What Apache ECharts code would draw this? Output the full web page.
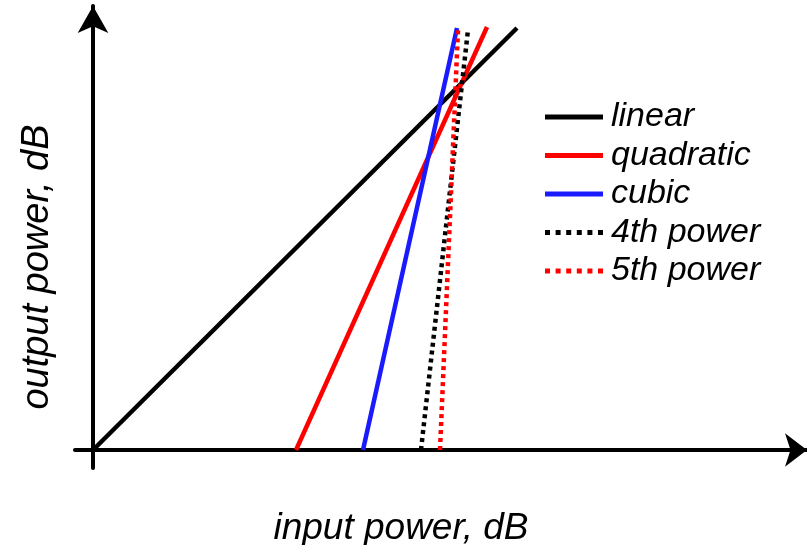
<!DOCTYPE html>
<html>
<head>
<meta charset="utf-8">
<script src="https://cdn.jsdelivr.net/npm/echarts@6/dist/echarts.min.js"></script>
<style>
  html, body, #main { margin: 0; padding: 0; width: 807px; height: 545px; background: #fff; overflow: hidden; }
</style>
</head>
<body>
<div id="main"></div>
<script>
// series names (legend order)
const seriesNames = ["linear", "quadratic", "cubic", "4th power", "5th power"];
// end points of each line: [input dB, output dB]
const linearPts = [[0, 0], [42.4, 42.2]];
const quadraticPts = [[20.3, 0], [39.4, 42.3]];
const cubicPts = [[27.0, 0], [36.4, 42.2]];
const fourthPts = [[32.8, 0], [37.5, 42.0]];
const fifthPts = [[34.7, 0], [36.5, 42.0]];

const myChart = echarts.init(document.getElementById("main"));
const font = "Liberation Sans, Arial, sans-serif";

// legend icons: a solid bar, and a row of squares for the dotted ones
const solidIcon = "path://M0,0h58v5h-58z";
const dotIcon = "path://M0,0h5v5h-5zM10.6,0h5v5h-5zM21.2,0h5v5h-5zM31.8,0h5v5h-5zM42.4,0h5v5h-5zM53,0h5v5h-5z";

function mk(name, data, color, dotted) {
  return {
    name: name,
    type: "line",
    data: data,
    symbol: "none",
    lineStyle: {
      color: color,
      width: 4.5,
      type: dotted ? [4, 4] : "solid",
      cap: "butt",
    },
    itemStyle: { color: color },
  };
}

const option = {
  animation: false,
  grid: { left: 75, right: 0, top: 6, bottom: 77, containLabel: false, outerBoundsMode: "none" },
  legend: {
    data: [
      { name: seriesNames[0], icon: solidIcon },
      { name: seriesNames[1], icon: solidIcon },
      { name: seriesNames[2], icon: solidIcon },
      { name: seriesNames[3], icon: dotIcon },
      { name: seriesNames[4], icon: dotIcon },
    ],
    orient: "vertical",
    left: 540,
    top: 95,
    itemWidth: 58,
    itemHeight: 5,
    itemGap: 4.5,
    textStyle: { fontFamily: font, fontStyle: "italic", fontSize: 34, color: "#000", padding: [0, 0, 0, 3] },
  },
  xAxis: {
    type: "value",
    min: -1.8,
    max: 71.4,
    name: "input power, dB",
    nameLocation: "middle",
    nameGap: 42,
    nameTextStyle: { fontFamily: font, fontStyle: "italic", fontSize: 37, color: "#000", padding: [0, 80, 0, 0] },
    axisLine: {
      onZero: true,
      symbol: ["none", "arrow"],
      symbolSize: [25, 22],
      lineStyle: { color: "#000", width: 4 },
    },
    axisTick: { show: false },
    axisLabel: { show: false },
    splitLine: { show: false },
  },
  yAxis: {
    type: "value",
    min: -1.8,
    max: 44.4,
    name: "output power, dB",
    nameLocation: "middle",
    nameGap: 19,
    nameTextStyle: { fontFamily: font, fontStyle: "italic", fontSize: 38, color: "#000", padding: [0, 60, 0, 0] },
    axisLine: {
      show: true,
      onZero: true,
      symbol: ["none", "arrow"],
      symbolSize: [23, 27],
      lineStyle: { color: "#000", width: 4 },
    },
    axisTick: { show: false },
    axisLabel: { show: false },
    splitLine: { show: false },
  },
  series: [
    mk("linear", linearPts, "#000000", false),
    mk("quadratic", quadraticPts, "#ff0000", false),
    mk("cubic", cubicPts, "#1a1aff", false),
    mk("4th power", fourthPts, "#000000", true),
    mk("5th power", fifthPts, "#ff0000", true),
  ],
};
myChart.setOption(option);
window.onresize = myChart.resize;
</script>
</body>
</html>
